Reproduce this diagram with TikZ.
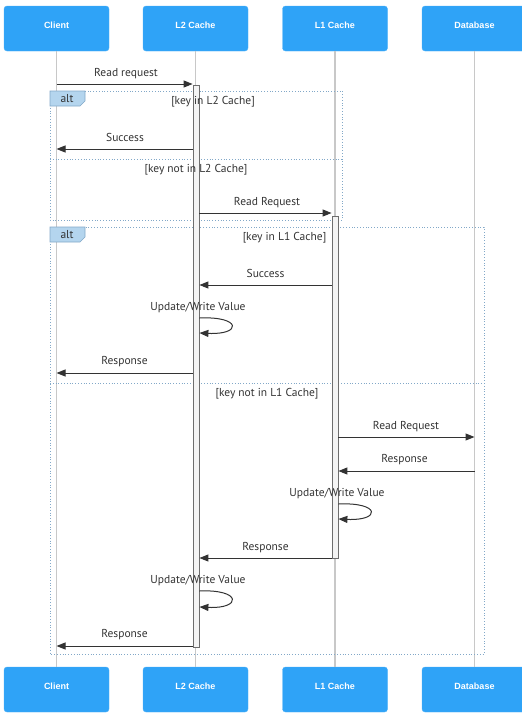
\documentclass[tikz,border=0pt]{standalone}
\usepackage{fontspec}
\setmainfont{PT Sans}
\newfontfamily\actorfont{Liberation Sans}
\usetikzlibrary{arrows.meta}
\definecolor{actorblue}{RGB}{47,163,247}
\definecolor{msgcol}{RGB}{51,51,51}
\definecolor{lifecol}{RGB}{200,200,200}
\definecolor{framecol}{RGB}{130,168,200}
\definecolor{altfill}{RGB}{180,213,238}
\definecolor{actfill}{RGB}{244,244,244}
\definecolor{actline}{RGB}{110,110,110}
\begin{document}
\begin{tikzpicture}[x=1pt,y=-1pt,
  actor/.style={draw=actorblue!85!white, fill=actorblue, rounded corners=3pt,
    minimum width=105pt, minimum height=45pt, inner sep=0pt, text=white,
    text height=7pt, text depth=8pt,
    font=\actorfont\bfseries\fontsize{9}{10}\selectfont},
  lifeline/.style={draw=lifecol, line width=1.4pt},
  activation/.style={draw=actline, fill=actfill, line width=0.8pt,
    minimum width=6pt, inner sep=0pt},
  msg/.style={draw=msgcol, line width=1pt, -{Triangle[length=9pt,width=7pt]}},
  msglabel/.style={text=msgcol, font=\fontsize{11.5}{13}\selectfont, inner sep=0pt,
    anchor=base, yshift=-4pt},
  frameline/.style={draw=framecol, line width=0.8pt, dotted},
  altbox/.style={fill=altfill, draw=framecol, line width=0.6pt},
]
\path[use as bounding box] (0,0) rectangle (522,715);
\clip (0,0) rectangle (522,715);

% participants, top and bottom
\node[actor] (cT)  at (56.5,28.5)  {Client};
\node[actor] (l2T) at (195.5,28.5) {L2 Cache};
\node[actor] (l1T) at (335,28.5)   {L1 Cache};
\node[actor] (dbT) at (474.5,28.5) {Database};
\node[actor] (cB)  at (56.5,689.5)  {Client};
\node[actor] (l2B) at (195.5,689.5) {L2 Cache};
\node[actor] (l1B) at (335,689.5)   {L1 Cache};
\node[actor] (dbB) at (474.5,689.5) {Database};

% lifelines
\draw[lifeline] (cT.south)  -- (cB.north);
\draw[lifeline] (l2T.south) -- (l2B.north);
\draw[lifeline] (l1T.south) -- (l1B.north);
\draw[lifeline] (dbT.south) -- (dbB.north);

% outer alt frame (L2 lookup)
\draw[frameline] (50,91) rectangle (342,220);
\draw[altbox] (50,91) -- (85,91) -- (85,101) -- (80,106) -- (50,106) -- cycle;
\node[msglabel] (alt1) at (67,98.5) {alt};
\draw[frameline] (50,159) -- (342,159);

% inner alt frame (L1 lookup)
\draw[frameline] (50,227) rectangle (484,654);
\draw[altbox] (50,227) -- (85,227) -- (85,237) -- (80,242) -- (50,242) -- cycle;
\node[msglabel] (alt2) at (67,234.5) {alt};
\draw[frameline] (50,383) -- (484,383);

% activation bars
\node[activation, minimum height=562pt] (act2) at (196,366) {};
\node[activation, minimum height=342pt] (act1) at (335,387) {};

% guards
\node[msglabel] (g1) at (213,100)   {[key in L2 Cache]};
\node[msglabel] (g2) at (196,168)   {[key not in L2 Cache]};
\node[msglabel] (g3) at (284.5,236) {[key in L1 Cache]};
\node[msglabel] (g4) at (267,392)   {[key not in L1 Cache]};

% messages
\draw[msg] (cT |- 0,84) -- (act2.west |- 0,84);
\node[msglabel] (t1) at (126,72) {Read request};

\draw[msg] (act2.west |- 0,149) -- (cT |- 0,149);
\node[msglabel] (t2) at (125,137) {Success};

\draw[msg] (act2.east |- 0,213) -- (act1.west |- 0,213);
\node[msglabel] (t3) at (267,201) {Read Request};

\draw[msg] (act1.west |- 0,285) -- (act2.east |- 0,285);
\node[msglabel] (t4) at (265.5,273) {Success};

\node[msglabel] (t5) at (198,306) {Update/Write Value};
\draw[msg] (act2.east |- 0,318) .. controls (242,316) and (242,335) .. (act2.east |- 0,333);

\draw[msg] (act2.west |- 0,373) -- (cT |- 0,373);
\node[msglabel] (t6) at (124.5,360) {Response};

\draw[msg] (act1.east |- 0,437) -- (dbT |- 0,437);
\node[msglabel] (t7) at (406,425) {Read Request};

\draw[msg] (dbT |- 0,471) -- (act1.east |- 0,471);
\node[msglabel] (t8) at (404.5,458) {Response};

\node[msglabel] (t9) at (337,492) {Update/Write Value};
\draw[msg] (act1.east |- 0,504) .. controls (381,502) and (381,521) .. (act1.east |- 0,519);

\draw[msg] (act1.west |- 0,558) -- (act2.east |- 0,558);
\node[msglabel] (t10) at (265.5,546) {Response};

\node[msglabel] (t11) at (198,579) {Update/Write Value};
\draw[msg] (act2.east |- 0,591) .. controls (242,589) and (242,609) .. (act2.east |- 0,607);

\draw[msg] (act2.west |- 0,646) -- (cT |- 0,646);
\node[msglabel] (t12) at (124.5,633) {Response};
\end{tikzpicture}
\end{document}
